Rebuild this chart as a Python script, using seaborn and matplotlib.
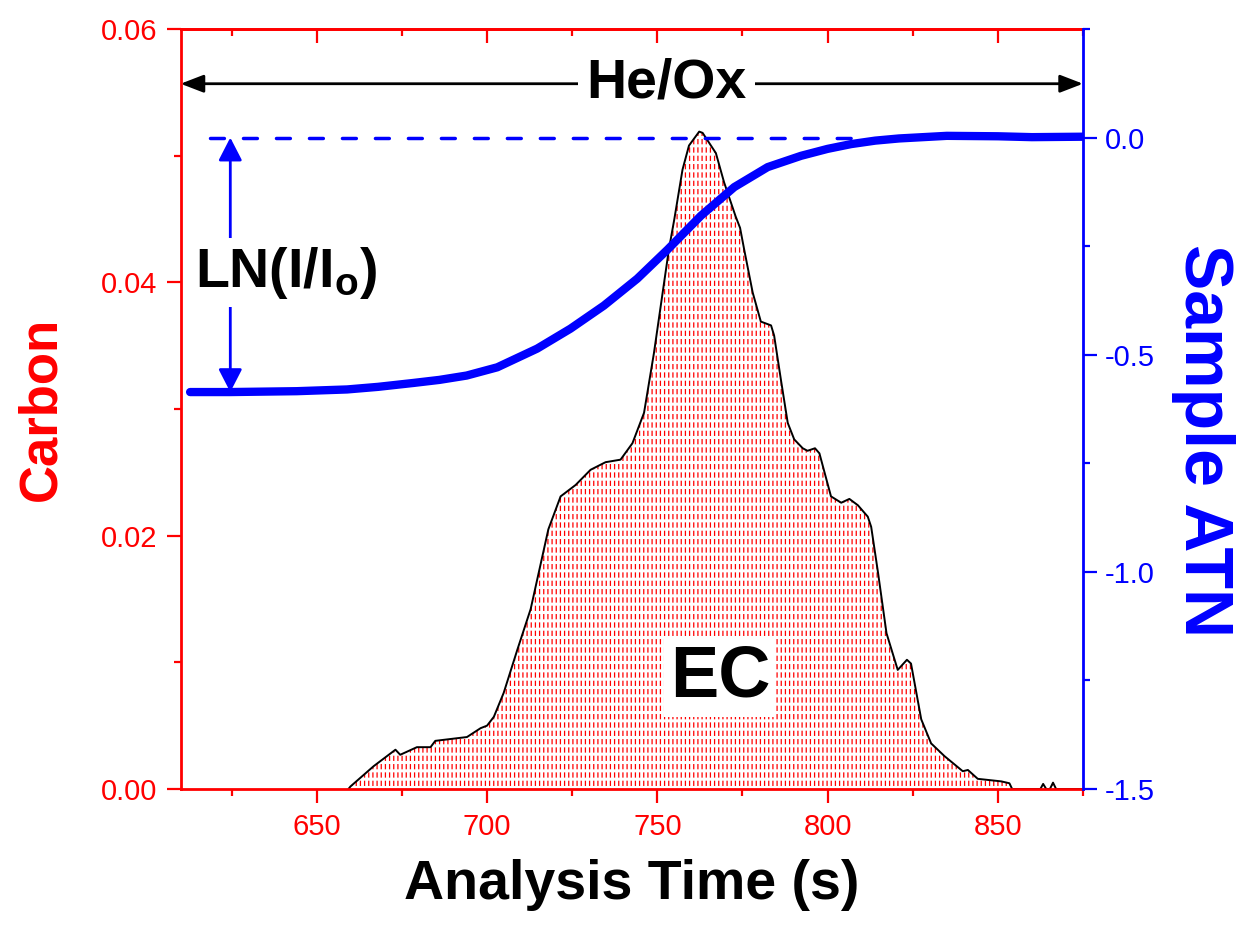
import numpy as np
import matplotlib
matplotlib.use("Agg")
import matplotlib.pyplot as plt
import seaborn as sns
from matplotlib.ticker import MultipleLocator, FormatStrFormatter

# ---------------- data ----------------
carbon_time = [659.3, 659.9, 666.7, 673.1, 674.5, 679.4, 683.4, 684.8, 694.1, 698.1,
               700.0, 702.0, 704.9, 708.9, 712.8, 718.0, 721.6, 726.0, 730.4, 734.8,
               739.2, 742.7, 746.1, 749.0, 752.0, 753.4, 755.0, 757.4, 759.3, 762.3,
               763.3, 767.2, 769.6, 773.0, 774.3, 775.5, 778.0, 780.4, 783.4, 784.3,
               786.3, 788.3, 790.2, 792.7, 794.1, 796.3, 797.6, 801.0, 804.0, 806.4,
               808.9, 811.8, 812.8, 814.8, 817.3, 820.6, 823.3, 824.5, 827.5, 830.4,
               834.3, 839.7, 841.2, 844.1, 851.0, 853.4, 854.2, 862.5, 863.3, 864.2,
               865.3, 866.2, 867.1, 875.0]
carbon_value = [0.0, 0.0002, 0.0018, 0.0031, 0.0027, 0.0033, 0.0033, 0.0038, 0.0041, 0.0048,
                0.0050, 0.0057, 0.0076, 0.0110, 0.0142, 0.0205, 0.0231, 0.0240, 0.0252, 0.0258,
                0.0260, 0.0273, 0.0297, 0.0344, 0.0400, 0.0426, 0.0450, 0.0489, 0.0508, 0.0519,
                0.0518, 0.0502, 0.0479, 0.0452, 0.0443, 0.0426, 0.0392, 0.0369, 0.0366, 0.0358,
                0.0323, 0.0289, 0.0276, 0.0269, 0.0267, 0.0269, 0.0265, 0.0231, 0.0226, 0.0229,
                0.0224, 0.0215, 0.0207, 0.0171, 0.0123, 0.0094, 0.0102, 0.0099, 0.0055, 0.0036,
                0.0026, 0.0014, 0.0015, 0.0008, 0.0006, 0.00045, 0.0, 0.0, 0.0004, 0.0,
                0.0, 0.0005, 0.0, 0.0]

atn_time = [612.8, 624.5, 644.1, 658.9, 668.0, 678.4, 686.0, 694.0, 703.0, 714.7,
            724.5, 734.3, 744.1, 753.0, 762.8, 772.6, 782.4, 792.2, 800.0, 806.9,
            814.0, 821.0, 835.0, 850.0, 860.0, 875.0]
atn_value = [-0.586, -0.586, -0.584, -0.580, -0.574, -0.565, -0.558, -0.548, -0.529, -0.486,
             -0.440, -0.387, -0.325, -0.258, -0.180, -0.114, -0.068, -0.042, -0.026, -0.015,
             -0.007, -0.002, 0.004, 0.003, 0.001, 0.002]

baseline_time = [618.6, 807.0]
baseline_value = [0.0, 0.0]

x_ticks = [650, 700, 750, 800, 850]
carbon_ticks = [0.00, 0.02, 0.04, 0.06]
atn_ticks = [-1.5, -1.0, -0.5, 0.0]

# ---------------- style ----------------
sns.set_style("ticks")
plt.rcParams['font.family'] = ['Liberation Sans', 'DejaVu Sans']
plt.rcParams['text.color'] = 'black'
plt.rcParams['mathtext.fontset'] = 'custom'
plt.rcParams['mathtext.bf'] = 'Liberation Sans:bold'
plt.rcParams['mathtext.rm'] = 'Liberation Sans'
plt.rcParams['hatch.linewidth'] = 0.9

RED = '#ff0000'
BLUE = '#0000ff'
TICK_FS = 21

fig = plt.figure(figsize=(12.36, 9.27), dpi=100)
ax = fig.add_axes([0.1461, 0.1489, 0.7301, 0.8198])
ax.set_xlim(610, 875)
ax.set_ylim(0, 0.06)

# carbon hatched area (red vertical drop lines, broken into dashes)
ax.fill_between(carbon_time, carbon_value, 0, facecolor='none', edgecolor=RED,
                hatch='||||', linewidth=0, zorder=1)
gaps = ax.fill_between(carbon_time, carbon_value, 0, facecolor='none', edgecolor='white',
                       hatch='--', linewidth=0, zorder=1.5)
if hasattr(gaps, 'set_hatch_linewidth'):
    gaps.set_hatch_linewidth(2.2)
else:
    gaps.remove()
sns.lineplot(x=carbon_time, y=carbon_value, ax=ax, color='black', linewidth=1.4,
             sort=False, estimator=None, zorder=2)

# axes styling (left / bottom / top)
for s in ['left', 'bottom', 'top']:
    ax.spines[s].set_color(RED)
    ax.spines[s].set_linewidth(2)
ax.spines['right'].set_visible(False)
ax.set_xticks(x_ticks)
ax.xaxis.set_minor_locator(MultipleLocator(25))
ax.set_yticks(carbon_ticks)
ax.yaxis.set_minor_locator(MultipleLocator(0.01))
ax.yaxis.set_major_formatter(FormatStrFormatter('%.2f'))
ax.tick_params(axis='both', which='major', direction='out', length=10, width=1.6,
               color=RED, labelcolor=RED, labelsize=TICK_FS, pad=7)
ax.tick_params(axis='both', which='minor', direction='out', length=5, width=1.6, color=RED)
ax.tick_params(axis='x', top=False, which='both')
ax.tick_params(axis='y', right=False, which='both')

top = ax.secondary_xaxis('top')
top.set_xticks(x_ticks)
top.xaxis.set_minor_locator(MultipleLocator(25))
top.tick_params(which='major', direction='in', length=10, width=1.6, color=RED, labeltop=False)
top.tick_params(which='minor', direction='in', length=5, width=1.6, color=RED)
top.spines['top'].set_color(RED)
top.spines['top'].set_linewidth(2)

ax.set_xlabel('Analysis Time (s)', fontsize=40, fontweight='bold', color='black')
ax.xaxis.set_label_coords(0.5, -0.092)
ax.set_ylabel('Carbon', fontsize=38, fontweight='bold', color=RED)
ax.yaxis.set_label_coords(-0.127, 0.5)

ax.text(768.4, 0.0088, 'EC', fontsize=52, fontweight='bold', color='black',
        ha='center', va='center', zorder=5,
        bbox=dict(boxstyle='square,pad=0.08', facecolor='white', edgecolor='none'))

# ---------------- right axis ----------------
ax2 = ax.twinx()
ax2.set_ylim(-1.5, 0.25)
for s in ['left', 'bottom', 'top']:
    ax2.spines[s].set_visible(False)
ax2.spines['right'].set_color(BLUE)
ax2.spines['right'].set_linewidth(2)
ax2.set_yticks(atn_ticks)
ax2.yaxis.set_minor_locator(MultipleLocator(0.25))
ax2.yaxis.set_major_formatter(FormatStrFormatter('%.1f'))
ax2.tick_params(axis='y', which='major', direction='out', length=10, width=1.6,
                color=BLUE, labelcolor=BLUE, labelsize=TICK_FS, pad=6)
ax2.tick_params(axis='y', which='minor', direction='out', length=5, width=1.6, color=BLUE)

ax2.plot(baseline_time, baseline_value, color=BLUE, linewidth=2.5,
         linestyle=(0, (4, 5.5)), dash_capstyle='round', zorder=3)
sns.lineplot(x=atn_time, y=atn_value, ax=ax2, color=BLUE, linewidth=6,
             sort=False, estimator=None, zorder=4)

ax2.set_ylabel('Sample ATN', fontsize=49, fontweight='bold', color=BLUE,
               rotation=270, va='bottom')
ax2.yaxis.set_label_coords(1.098, 0.458)

# He/Ox arrow
ax2.annotate('', xy=(610, 0.124), xytext=(875, 0.124),
             arrowprops=dict(arrowstyle='<|-|>,head_length=0.7,head_width=0.27',
                             mutation_scale=20, color='black', lw=2,
                             shrinkA=0, shrinkB=0), zorder=6)
ax2.text(752.8, 0.124, 'He/Ox', fontsize=40, fontweight='bold', color='black',
         ha='center', va='center', zorder=7,
         bbox=dict(boxstyle='square,pad=0.15', facecolor='white', edgecolor='none'))

# LN(I/Io) arrow
ax2.annotate('', xy=(624.6, 0.0), xytext=(624.6, -0.586),
             arrowprops=dict(arrowstyle='<|-|>,head_length=0.7,head_width=0.36',
                             mutation_scale=20, color=BLUE, lw=2,
                             shrinkA=0, shrinkB=0), zorder=6)
ax2.text(641.0, -0.343, r'$\mathbf{LN(I/I_o)}$', fontsize=40, color='black',
         ha='center', va='baseline', zorder=7,
         bbox=dict(boxstyle='square,pad=0.12', facecolor='white', edgecolor='none'))

fig.savefig('out.png', dpi=100)
